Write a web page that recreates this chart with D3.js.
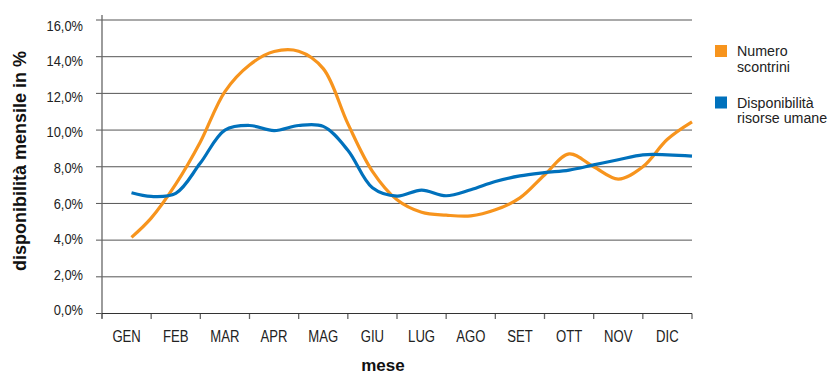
<!DOCTYPE html>
<html>
<head>
<meta charset="utf-8">
<script src="https://cdn.jsdelivr.net/npm/d3@7"></script>
<style>
  html, body { margin: 0; padding: 0; background: #fff; }
  svg { display: block; }
</style>
</head>
<body>
<svg id="chart" width="837" height="376"></svg>
<script>
// Months on the category axis
const mesi = ["GEN", "FEB", "MAR", "APR", "MAG", "GIU", "LUG", "AGO", "SET", "OTT", "NOV", "DIC"];

// Survey points, in months from the start of the year (half-month steps)
const periodo = [0.6, 1.0, 1.5, 2.0, 2.5, 3.0, 3.5, 4.0, 4.5, 5.0, 5.5, 6.0,
                 6.5, 7.0, 7.5, 8.0, 8.5, 9.0, 9.5, 10.0, 10.5, 11.0, 11.5, 12.0];

// Numero scontrini, monthly share in %
const scontrini = [4.15, 5.2, 7.05, 9.35, 12.1, 13.55, 14.28, 14.3, 13.35, 10.35, 7.75, 6.2,
                   5.52, 5.36, 5.32, 5.65, 6.3, 7.55, 8.7, 8.0, 7.33, 8.0, 9.5, 10.45];

// Disponibilità risorse umane, monthly share in %
const risorse = [6.58, 6.38, 6.55, 8.2, 10.0, 10.25, 9.97, 10.25, 10.2, 8.9, 6.85, 6.4,
                 6.73, 6.42, 6.75, 7.2, 7.5, 7.68, 7.82, 8.1, 8.38, 8.65, 8.65, 8.58];

const yTicks = [0, 2, 4, 6, 8, 10, 12, 14, 16];

const serie = [
  { nome: ["Numero", "scontrini"], valori: scontrini, colore: "#F7941D" },
  { nome: ["Disponibilità", "risorse umane"], valori: risorse, colore: "#0071BC" }
];

const svg = d3.select("#chart");
const plotLeft = 102, plotRight = 692, plotTop = 20, plotBottom = 313.5;
const font = "'Liberation Sans', Arial, sans-serif";

const x = d3.scaleBand().domain(mesi).range([plotLeft, plotRight]).padding(0);
const t = d3.scaleLinear().domain([0, 12]).range([plotLeft, plotRight]);
const y = d3.scaleLinear().domain([0, 16]).range([plotBottom, plotTop]);
// tick labels sit on a slightly tighter spacing than the gridlines
const yLab = d3.scaleLinear().domain([0, 16]).range([310, 25.5]);

const fmt = v => d3.format(".1f")(v).replace(".", ",") + "%";

// gridlines with left tick marks
svg.append("g")
  .selectAll("line")
  .data(yTicks)
  .join("line")
  .attr("x1", plotLeft - 6).attr("x2", plotRight)
  .attr("y1", d => y(d)).attr("y2", d => y(d))
  .attr("stroke", "#555").attr("stroke-width", 1);

svg.append("g")
  .selectAll("text")
  .data(yTicks)
  .join("text")
  .attr("transform", d => `translate(83,${yLab(d)}) scale(0.92,1.05)`)
  .attr("dy", "0.36em")
  .attr("text-anchor", "end")
  .attr("font-family", font)
  .attr("font-size", 14)
  .attr("fill", "#222")
  .text(fmt);

// vertical axis line
svg.append("line")
  .attr("x1", plotLeft).attr("x2", plotLeft)
  .attr("y1", plotTop - 5).attr("y2", plotBottom + 5)
  .attr("stroke", "#666").attr("stroke-width", 1.3);

// x axis (condensed month labels)
const xAxis = d3.axisBottom(x).tickSize(0).tickPadding(0);
const gx = svg.append("g").attr("transform", `translate(0,${plotBottom})`).call(xAxis);
gx.select(".domain").remove();
gx.selectAll("text")
  .attr("y", 0)
  .attr("dy", 0)
  .attr("transform", "translate(0,28) scale(0.82,1)")
  .attr("font-family", font)
  .attr("font-size", 16)
  .attr("fill", "#222");

// band boundary ticks
const bounds = mesi.map(m => x(m)).concat([plotRight]);
svg.append("g")
  .selectAll("line")
  .data(bounds)
  .join("line")
  .attr("x1", d => d).attr("x2", d => d)
  .attr("y1", plotBottom).attr("y2", plotBottom + 5.5)
  .attr("stroke", "#666").attr("stroke-width", 1.3);

svg.append("line")
  .attr("x1", plotLeft).attr("x2", plotRight)
  .attr("y1", plotBottom).attr("y2", plotBottom)
  .attr("stroke", "#333").attr("stroke-width", 1);

// series lines
const line = vals => d3.line()
  .x((d, i) => t(periodo[i]))
  .y(d => y(d))
  .curve(d3.curveCatmullRom.alpha(0.5))(vals);

svg.append("g")
  .selectAll("path")
  .data(serie)
  .join("path")
  .attr("d", d => line(d.valori))
  .attr("fill", "none")
  .attr("stroke", d => d.colore)
  .attr("stroke-width", 3.2);

// axis titles
svg.append("text")
  .attr("transform", "translate(26,161) rotate(-90)")
  .attr("text-anchor", "middle")
  .attr("font-family", font)
  .attr("font-weight", "bold")
  .attr("font-size", 18)
  .attr("fill", "#111")
  .text("disponibilità mensile in %");

svg.append("text")
  .attr("x", 383).attr("y", 371)
  .attr("text-anchor", "middle")
  .attr("font-family", font)
  .attr("font-weight", "bold")
  .attr("font-size", 17)
  .attr("fill", "#111")
  .text("mese");

// legend
const leg = svg.append("g")
  .selectAll("g")
  .data(serie)
  .join("g")
  .attr("transform", (d, i) => `translate(715,${45 + i * 51.5})`);

leg.append("rect")
  .attr("width", 12).attr("height", 12)
  .attr("fill", d => d.colore);

leg.append("text")
  .attr("transform", "translate(22,0) scale(0.95,1)")
  .attr("font-family", font)
  .attr("font-size", 15)
  .attr("fill", "#222")
  .selectAll("tspan")
  .data(d => d.nome)
  .join("tspan")
  .attr("x", 0)
  .attr("y", (d, i) => 11 + i * 16)
  .text(d => d);
</script>
</body>
</html>
